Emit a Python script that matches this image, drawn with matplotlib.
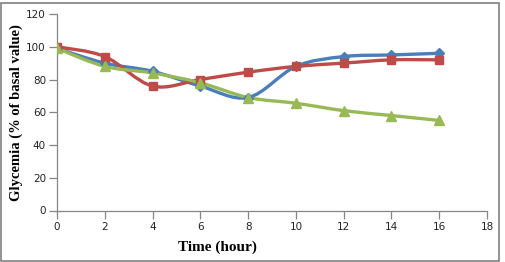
import numpy as np
import matplotlib
matplotlib.use("Agg")
from matplotlib import pyplot as plt
from matplotlib.path import Path
from matplotlib.patches import PathPatch, Rectangle

# data
time_h = [0, 2, 4, 6, 8, 10, 12, 14, 16]
blue_vals = [99, 90, 85, 76, 69, 88, 94, 95, 96]
red_vals = [100, 94, 76, 80, 84.5, 88, 90, 92, 92]
green_vals = [99, 88, 84, 78, 69, 65.5, 61, 58, 55]

x_ticks = [0, 2, 4, 6, 8, 10, 12, 14, 16, 18]
y_ticks = [0, 20, 40, 60, 80, 100, 120]

series = [
    (blue_vals, "#4A7EBB", "D", 5),
    (red_vals, "#BE4B48", "s", 6),
    (green_vals, "#98B954", "^", 6.5),
]


def smooth_path(x, y):
    # excel-like smoothed line: cubic bezier segments through the points
    pts = np.column_stack([x, y]).astype(float)
    n = len(pts)
    verts = [pts[0]]
    codes = [Path.MOVETO]
    for i in range(n - 1):
        p0 = pts[i - 1] if i > 0 else pts[i]
        p1 = pts[i]
        p2 = pts[i + 1]
        p3 = pts[i + 2] if i + 2 < n else pts[i + 1]
        c1 = p1 + (p2 - p0) / 6.0
        c2 = p2 - (p3 - p1) / 6.0
        verts += [c1, c2, p2]
        codes += [Path.CURVE4] * 3
    return Path(verts, codes)


fig = plt.figure(figsize=(5.06, 2.62), dpi=100)
ax = fig.add_axes([57 / 506, 1 - 210.5 / 262, 430 / 506, 196.5 / 262])

for vals, col, mk, ms in series:
    ax.add_patch(PathPatch(smooth_path(time_h, vals), fill=False,
                           edgecolor=col, lw=2.4, zorder=2, capstyle="round"))
    ax.plot(time_h, vals, ls="none", marker=mk, ms=ms, color=col, zorder=3)

ax.set_xlim(0, 18)
ax.set_ylim(0, 120)
ax.set_xticks(x_ticks)
ax.set_yticks(y_ticks)
for s in ["top", "right"]:
    ax.spines[s].set_visible(False)
for s in ["left", "bottom"]:
    ax.spines[s].set_color("#868686")
    ax.spines[s].set_linewidth(0.9)
ax.tick_params(direction="out", length=5.5, width=0.9, color="#868686",
               labelsize=7.5, pad=2.5, labelcolor="#222222")

ax.set_xlabel("Time (hour)", family="Liberation Serif", fontweight="bold",
              fontsize=11)
ax.xaxis.set_label_coords((217 - 57) / 430, -(247 - 210.5) / 196.5)
ax.xaxis.label.set_va("center")
ax.set_ylabel("Glycemia (% of basal value)", family="Liberation Serif",
              fontweight="bold", fontsize=10.5)
ax.yaxis.set_label_coords((16 - 57) / 430, 0.5)
ax.yaxis.label.set_va("center")

# outer frame
fig.patches.append(Rectangle((1.5 / 506, 1 / 262), 497.5 / 506, 258.5 / 262,
                             transform=fig.transFigure, fill=False,
                             edgecolor="#808080", lw=1.2))

fig.savefig("out.png", dpi=100)
